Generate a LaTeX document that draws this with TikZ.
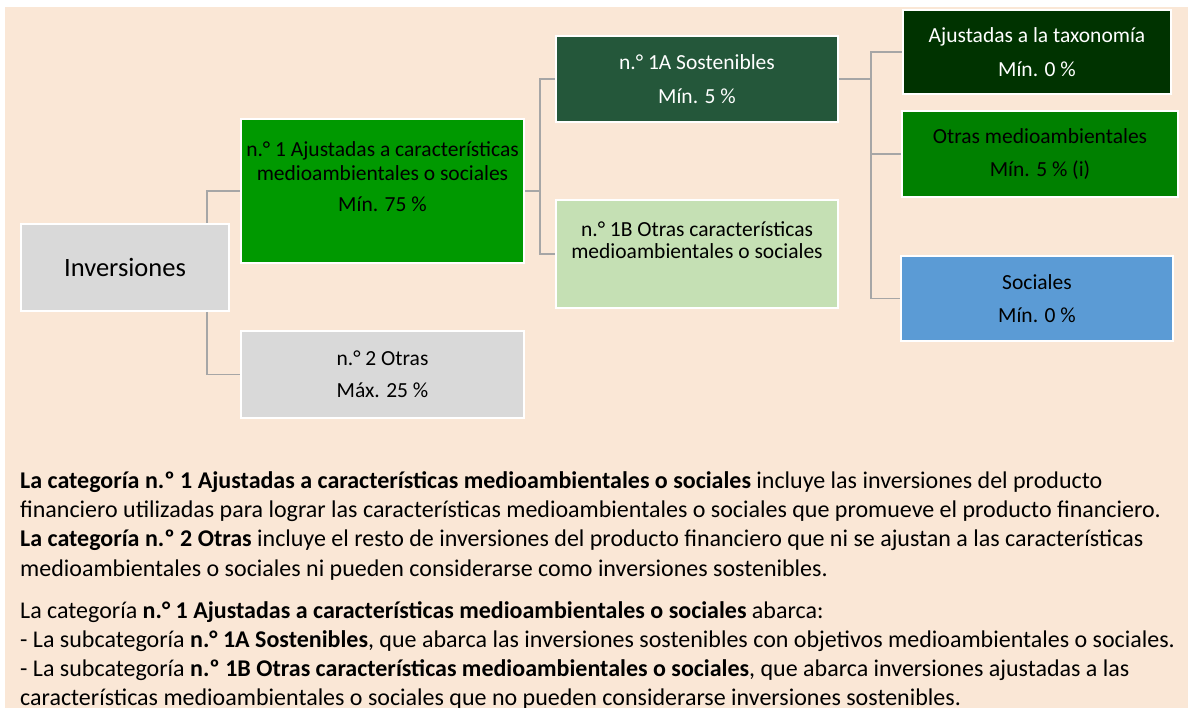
\documentclass[tikz,border=0pt]{standalone}
\usepackage{fontspec}
\setmainfont{Carlito}
\definecolor{fondo}{HTML}{FAE7D6}
\definecolor{gris}{HTML}{D9D9D9}
\definecolor{lineagris}{HTML}{A6A6A6}
\definecolor{verdeuno}{HTML}{009900}
\definecolor{verdesost}{HTML}{24573A}
\definecolor{verdeclaro}{HTML}{C5E0B4}
\definecolor{verdetax}{HTML}{003300}
\definecolor{verdema}{HTML}{008000}
\definecolor{azulsoc}{HTML}{5B9BD5}
\begin{document}
\begin{tikzpicture}[x=1pt, y=-1pt,
    caja/.style={draw=white, line width=2pt, inner sep=0pt, anchor=north west,
      align=center, font=\fontsize{21.5}{24}\selectfont},
    texto/.style={align=center, inner sep=0pt, font=\fontsize{21.5}{24}\selectfont},
    linea/.style={draw=lineagris, line width=1.5pt},
    parrafo/.style={anchor=base west, inner sep=0pt, font=\fontsize{24}{29}\selectfont}]
	\useasboundingbox (0,0) rectangle (1188,708);
	\fill[fondo] (5,7) rectangle (1188,708);

	\node[caja, fill=gris, minimum width=208pt, minimum height=87pt, font=\fontsize{26.5}{30}\selectfont] (inv) at (20,223) {Inversiones};
	\node[caja, fill=verdeuno, minimum width=283pt, minimum height=144pt] (cat1) at (240,118) {};
	\node[texto] (cat1t) at ([yshift=14pt]cat1.center) {n.° 1 Ajustadas a características\\medioambientales o sociales\\[7pt]Mín. 75 \%};
	\node[caja, fill=gris, minimum width=283pt, minimum height=87pt] (cat2) at (240,330) {n.° 2 Otras\\[8pt]Máx. 25 \%};

	\node[caja, fill=verdesost, text=white, minimum width=282pt, minimum height=86pt] (sub1a) at (555,35) {n.° 1A Sostenibles\\[10pt]Mín. 5 \%};
	\node[caja, fill=verdeclaro, minimum width=282pt, minimum height=108pt] (sub1b) at (555,199) {};
	\node[texto, font=\fontsize{21.5}{22}\selectfont] (sub1bt) at ([yshift=14pt]sub1b.center) {n.° 1B Otras características\\medioambientales o sociales};

	\node[caja, fill=verdetax, text=white, minimum width=268pt, minimum height=84pt] (tax) at (902,9) {Ajustadas a la taxonomía\\[10pt]Mín. 0 \%};
	\node[caja, fill=verdema, minimum width=276pt, minimum height=86pt] (otrasma) at (901,110) {Otras medioambientales\\[9pt]Mín. 5 \% (i)};
	\node[caja, fill=azulsoc, minimum width=272pt, minimum height=85pt] (soc) at (900,255) {Sociales\\[9pt]Mín. 0 \%};

	\draw[linea] ([xshift=-23pt]inv.north east) |- (cat1.west);
	\draw[linea] ([xshift=-23pt]inv.south east) |- (cat2.west);
	\draw[linea] (cat1.east) -- ++(15,0) |- (sub1a.west);
	\draw[linea] (cat1.east) -- ++(15,0) |- (sub1b.west);
	\draw[linea] (sub1a.east) -- ++(32,0) |- (tax.west);
	\draw[linea] (sub1a.east) -- ++(32,0) |- (otrasma.west);
	\draw[linea] (sub1a.east) -- ++(32,0) |- (soc.west);

	\node[parrafo] (p1) at (20,488) {\textbf{La categoría n.º 1 Ajustadas a características medioambientales o sociales} incluye las inversiones del producto};
	\node[parrafo] (p2) at (20,517) {financiero utilizadas para lograr las características medioambientales o sociales que promueve el producto financiero.};
	\node[parrafo] (p3) at (20,546) {\textbf{La categoría n.º 2 Otras} incluye el resto de inversiones del producto financiero que ni se ajustan a las características};
	\node[parrafo] (p4) at (20,576) {medioambientales o sociales ni pueden considerarse como inversiones sostenibles.};
	\node[parrafo] (p5) at (20,618) {La categoría \textbf{n.° 1 Ajustadas a características medioambientales o sociales} abarca:};
	\node[parrafo] (p6) at (20,647) {- La subcategoría \textbf{n.° 1A Sostenibles}, que abarca las inversiones sostenibles con objetivos medioambientales o sociales.};
	\node[parrafo] (p7) at (20,676) {- La subcategoría \textbf{n.º 1B Otras características medioambientales o sociales}, que abarca inversiones ajustadas a las};
	\node[parrafo] (p8) at (20,705) {características medioambientales o sociales que no pueden considerarse inversiones sostenibles.};
\end{tikzpicture}
\end{document}
